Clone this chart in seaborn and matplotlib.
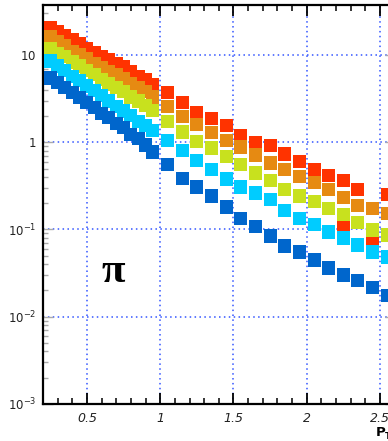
import numpy as np
import pandas as pd
import matplotlib
matplotlib.use("Agg")
import matplotlib.pyplot as plt
import seaborn as sns
from matplotlib.ticker import MultipleLocator, LogLocator, FixedLocator, NullFormatter

# ---- data ----
pt = [0.25, 0.30, 0.35, 0.40, 0.45, 0.50, 0.55, 0.60, 0.65, 0.70, 0.75, 0.80, 0.85, 0.90, 0.95,
      1.05, 1.15, 1.25, 1.35, 1.45, 1.55, 1.65, 1.75, 1.85, 1.95, 2.05, 2.15, 2.25, 2.35, 2.45, 2.55]

red = [20.9, 18.8, 16.9, 14.9, 13.4, 12.0, 10.8, 9.49, 8.76, 8.09, 7.29, 6.39, 5.60, 5.17, 4.53,
       3.67, 2.82, 2.22, 1.85, 1.54, 1.21, 0.980, 0.906, 0.733, 0.594, 0.481, 0.421, 0.369, 0.291, 0.0799, 0.249]
orange = [16.1, 14.1, 12.7, 11.1, 10.0, 9.00, 8.09, 7.10, 6.39, 5.90, 5.31, 4.65, 4.19, 3.77, 3.30,
          2.54, 1.95, 1.58, 1.28, 1.06, 0.882, 0.714, 0.578, 0.481, 0.400, 0.350, 0.291, 0.230, 0.186, 0.176, 0.151]
yellowgreen = [12.0, 10.5, 9.49, 8.31, 7.48, 6.56, 5.90, 5.17, 4.65, 4.19, 3.77, 3.30, 2.97, 2.67, 2.34,
               1.75, 1.31, 1.03, 0.859, 0.678, 0.549, 0.444, 0.360, 0.291, 0.242, 0.207, 0.172, 0.147, 0.119, 0.0987, 0.0865]
cyan = [8.53, 7.48, 6.56, 5.74, 5.04, 4.41, 3.87, 3.39, 2.97, 2.60, 2.28, 2.00, 1.75, 1.54, 1.35,
        1.06, 0.794, 0.610, 0.481, 0.379, 0.307, 0.262, 0.218, 0.167, 0.135, 0.113, 0.0936, 0.0799, 0.0664, 0.0552, 0.0484]
blue = [5.45, 4.78, 4.19, 3.67, 3.22, 2.82, 2.47, 2.16, 1.90, 1.66, 1.46, 1.24, 1.09, 0.930, 0.773,
        0.549, 0.389, 0.307, 0.242, 0.181, 0.135, 0.107, 0.0842, 0.0647, 0.0552, 0.0447, 0.0362, 0.0301, 0.0257, 0.0214, 0.0173]
red_extra_pt = [2.25]
red_extra = [0.104]

series_names = ["red", "orange", "yellowgreen", "cyan", "blue"]
colors = ["#FF3300", "#E68A12", "#C8E11E", "#00CCFF", "#0066CC"]

xticks = [0.5, 1, 1.5, 2, 2.5]
xticklabels = ["0.5", "1", "1.5", "2", "2.5"]
yticks = [1e-3, 1e-2, 1e-1, 1, 10]
yticklabels = [r"$\mathit{10^{-3}}$", r"$\mathit{10^{-2}}$", r"$\mathit{10^{-1}}$", r"$\mathit{1}$", r"$\mathit{10}$"]

# ---- build long table (row order = draw order) ----
frames = []
for name, vals in zip(series_names, [red, orange, yellowgreen, cyan, blue]):
    frames.append(pd.DataFrame({"pt": pt, "y": vals, "s": name}))
    if name == "red":
        frames.append(pd.DataFrame({"pt": red_extra_pt, "y": red_extra, "s": name}))
df = pd.concat(frames, ignore_index=True)

sns.set_style("white")
plt.rcParams["mathtext.fontset"] = "dejavusans"

W, H = 388, 441
fig = plt.figure(figsize=(W / 100, H / 100), dpi=100)
left_px, right_px, top_px, bot_px = 43, 394.6, 5, 404
ax = fig.add_axes([left_px / W, 1 - bot_px / H, (right_px - left_px) / W, (bot_px - top_px) / H])

sns.scatterplot(data=df, x="pt", y="y", hue="s", hue_order=series_names,
                palette=colors, marker="s", s=88, linewidth=0, legend=False, ax=ax, zorder=3)

ax.set_yscale("log")
ax.set_xlim(0.2, 2.6)
ax.set_ylim(1e-3, 37.4)

ax.set_xlabel("")
ax.set_ylabel("")

# grid
ax.grid(True, which="major", color="#3355FF", linestyle=(0, (1, 2.2)), linewidth=1.1)
ax.set_axisbelow(True)

# x ticks
ax.xaxis.set_major_locator(FixedLocator(xticks))
ax.set_xticklabels(xticklabels, fontstyle="italic", fontsize=9, color="#222222")
ax.xaxis.set_minor_locator(MultipleLocator(0.1))
ax.tick_params(axis="x", which="major", direction="in", top=True, bottom=True,
               length=8, width=1.3, color="black", pad=6)
ax.tick_params(axis="x", which="minor", direction="in", top=True, bottom=True,
               length=4.5, width=1.1, color="black")

# y ticks
ax.yaxis.set_major_locator(FixedLocator(yticks))
ax.set_yticklabels(yticklabels, fontsize=8.5, color="#222222")
ax.yaxis.set_minor_locator(LogLocator(base=10, subs=np.arange(2, 10)))
ax.yaxis.set_minor_formatter(NullFormatter())
ax.tick_params(axis="y", which="major", direction="in", left=True, right=True,
               length=7, width=1.0, color="#AAAAAA", pad=5)
ax.tick_params(axis="y", which="minor", direction="in", left=True, right=True,
               length=3.5, width=1.0, color="#AAAAAA")

for side in ["left", "bottom", "top", "right"]:
    ax.spines[side].set_visible(True)
    ax.spines[side].set_color("black")
    ax.spines[side].set_linewidth(1.6)

# annotations
fig.text(113 / W, 1 - 272 / H, "π", fontsize=31, fontweight="bold",
         family=["Liberation Serif", "DejaVu Serif"], ha="center", va="center", color="black")
fig.text(376 / W, 1 - 439 / H, "P", fontsize=9.5, fontweight="bold", ha="left", va="bottom", color="black")
fig.text(385 / W, 1 - 441 / H, "T", fontsize=6, fontweight="bold", ha="left", va="bottom", color="black")

fig.savefig("out.png", dpi=100)
